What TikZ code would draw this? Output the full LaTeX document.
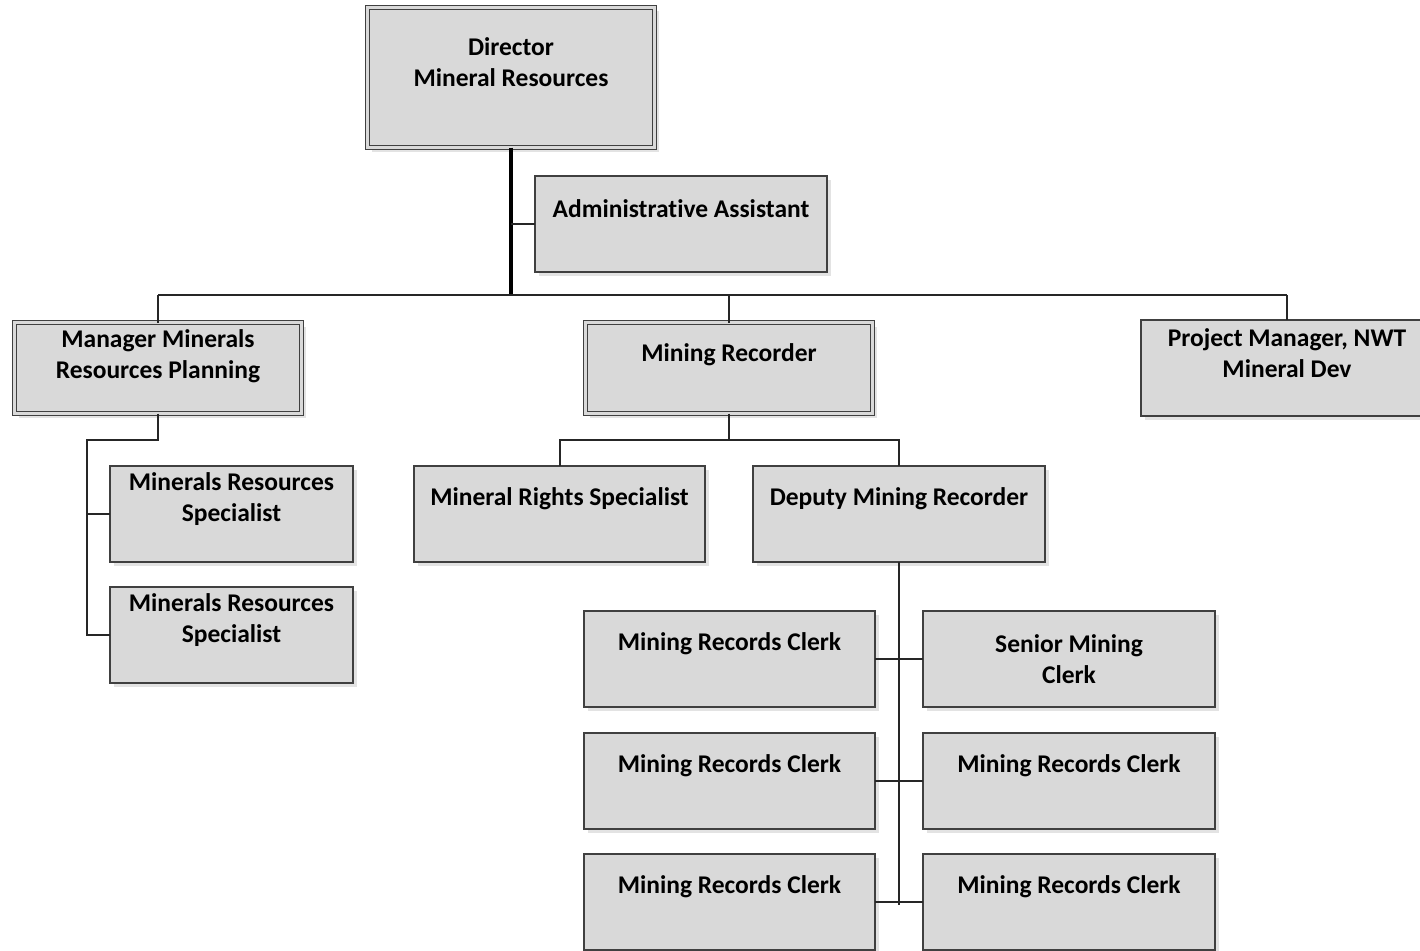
\documentclass[tikz,border=0pt]{standalone}
\usepackage{fontspec}
\setmainfont{Carlito}[Ligatures=NoCommon]
\usetikzlibrary{shadows, positioning, calc}
\definecolor{boxgray}{HTML}{D9D9D9}
\definecolor{edgegray}{HTML}{404040}
\definecolor{linegray}{HTML}{262626}
\begin{document}
\begin{tikzpicture}[x=1pt, y=-1pt,
		box/.style={draw=edgegray, line width=1.4pt, fill=boxgray, anchor=north west,
			minimum width=292pt, minimum height=96pt, inner sep=0pt, outer sep=0pt,
			drop shadow={shadow xshift=4pt, shadow yshift=-4pt, fill=black!11, opacity=1}},
		dbox/.style={box, double=boxgray, double distance=2.4pt, line width=1.2pt,
			minimum width=287pt, minimum height=91pt},
		txt/.style={anchor=center, yshift=-32.5pt, align=center, label distance=0pt,
			font=\fontsize{25.5}{31}\selectfont\bfseries},
		conn/.style={draw=linegray, line width=2pt}]
	\useasboundingbox (0,0) rectangle (1420,950);
	\clip (0,0) rectangle (1420,950);
	% top
	\node[dbox, minimum height=140pt, label={[txt, yshift=-22pt]north:{Director\\Mineral Resources}}] (dir) at (367.5,7.5) {};
	\node[box, label={[txt]north:Administrative Assistant}] (aa) at (535,176) {};
	% second level
	\node[dbox, label={[txt, yshift=-1pt]north:{Manager Minerals\\Resources Planning}}] (mm) at (14.5,322.5) {};
	\node[dbox, label={[txt]north:Mining Recorder}] (mr) at (585.5,322.5) {};
	\node[box, label={[txt, yshift=-1pt]north:{Project Manager, NWT\\Mineral Dev}}] (pm) at (1141,320) {};
	% under manager
	\node[box, minimum width=243pt, label={[txt, yshift=-1pt]north:{Minerals Resources\\Specialist}}] (ms1) at (110,466) {};
	\node[box, minimum width=243pt, label={[txt, yshift=-1pt]north:{Minerals Resources\\Specialist}}] (ms2) at (110,587) {};
	% under mining recorder
	\node[box, minimum width=291pt, label={[txt]north:Mineral Rights Specialist}] (mrs) at (414,466) {};
	\node[box, label={[txt]north:Deputy Mining Recorder}] (dep) at (753,466) {};
	% clerks
	\node[box, minimum width=291pt, label={[txt]north:Mining Records Clerk}] (c1) at (584,611) {};
	\node[box, label={[txt, yshift=-15.5pt]north:{Senior Mining\\Clerk}}] (sc) at (923,611) {};
	\node[box, minimum width=291pt, label={[txt]north:Mining Records Clerk}] (c2) at (584,733) {};
	\node[box, label={[txt]north:Mining Records Clerk}] (c3) at (923,733) {};
	\node[box, minimum width=291pt, label={[txt]north:Mining Records Clerk}] (c4) at (584,854) {};
	\node[box, label={[txt]north:Mining Records Clerk}] (c5) at (923,854) {};
	% connectors
	\coordinate (bus) at (510,295);
	\coordinate (mmj) at (87,440);
	\coordinate (mrj) at (729,440);
	\draw[draw=black, line width=3.4pt] (dir.south) -- (dir.south |- bus);
	\draw[conn] (dir.south |- aa.west) -- (aa.west);
	\draw[conn] (mm.north |- bus) -- (pm.north |- bus);
	\foreach \n in {mm,mr,pm}
		\draw[conn] (\n.north) -- (\n.north |- bus);
	\draw[conn] (mm.south) -- (mm.south |- mmj) -- (mmj) -- (mmj |- ms2.west) -- (ms2.west);
	\draw[conn] (mmj |- ms1.west) -- (ms1.west);
	\draw[conn] (mr.south) -- (mrj);
	\draw[conn] (mrs.north) -- (mrs.north |- mrj) -- (dep.north |- mrj) -- (dep.north);
	\draw[conn] (dep.south) -- ($(dep.south |- c4.east)+(0,3)$);
	\foreach \a/\b in {c1/sc,c2/c3,c4/c5}
		\draw[conn] (\a.east) -- (\b.west);
\end{tikzpicture}
\end{document}
